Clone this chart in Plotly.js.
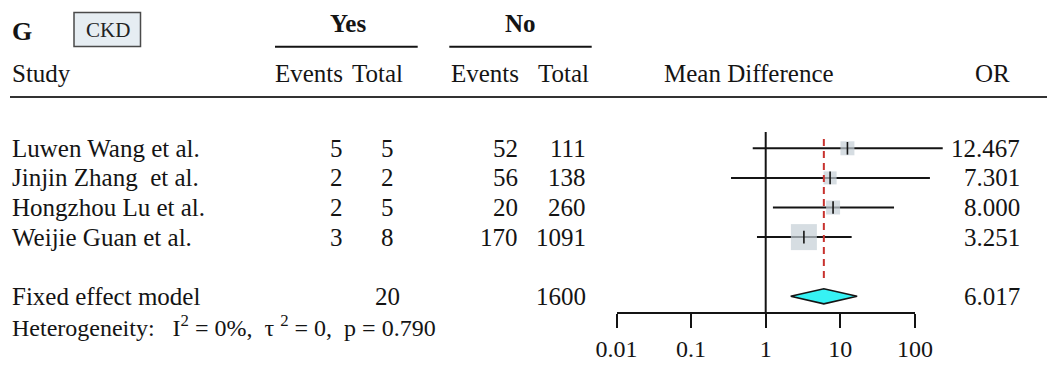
<!DOCTYPE html>
<html><head><meta charset="utf-8">
<script src="https://cdn.plot.ly/plotly-3.0.1.min.js"></script>
<style>html,body{margin:0;padding:0;background:#fff}#chart{width:1047px;height:383px}</style>
</head><body><div id="chart"></div>
<script>
// ---- data ----
const studies   = ["Luwen Wang et al.", "Jinjin Zhang\u00a0 et al.", "Hongzhou Lu et al.", "Weijie Guan et al."];
const yesEvents = [5, 2, 2, 3];
const yesTotal  = [5, 2, 5, 8];
const noEvents  = [52, 56, 20, 170];
const noTotal   = [111, 138, 260, 1091];
const orValue   = [12.467, 7.301, 8.000, 3.251];
const ciLower   = [0.67, 0.343, 1.25, 0.764];
const ciUpper   = [236, 159, 52.5, 14.2];
const weights   = [15.8, 13.7, 15.8, 54.6];
const pooledLabel = "Fixed effect model";
const pooledYesTotal = 20;
const pooledNoTotal  = 1600;
const pooledOR    = 6.017;
const pooledLower = 2.16;
const pooledUpper = 16.8;
const hetI2 = 0, hetTau2 = 0, hetP = 0.790;
const tickVals  = [0.01, 0.1, 1, 10, 100];
const tickText  = ["0.01", "0.1", "1", "10", "100"];

// ---- geometry helpers (pixels -> paper) ----
const W = 1047, H = 383;
const px = x => x / W;
const py = y => 1 - y / H;
const rowTop = 148.3, rowStep = 29.6;        // pixel centre of row 0, row spacing
const rowOf = y => (y - rowTop) / rowStep;
const pxPerDecade = 74.6, xOne = 765.7;
const FONT = "Liberation Serif, Times New Roman, serif";
const INK = "#141414";
const FS = 25;

const rows = studies.map((_, i) => i);
const pooledRow = 5;

// ---- traces ----
const ciX = [], ciY = [];
rows.forEach(i => { ciX.push(ciLower[i], ciUpper[i], null); ciY.push(i, i, null); });
const maxW = Math.max(...weights);
const boxSizes = weights.map(w => 26 * Math.sqrt(w / maxW));

const traces = [
  { x: [1, 1], y: [rowOf(132), rowOf(312.7)], mode: "lines", line: { color: INK, width: 2 }, hoverinfo: "skip" },
  { x: ciX, y: ciY, mode: "lines", line: { color: INK, width: 2 }, hoverinfo: "skip" },
  { x: orValue, y: rows, mode: "markers", marker: { symbol: "square", size: boxSizes, color: "#c4ced6", line: { width: 0 } }, hoverinfo: "skip" },
  { x: orValue, y: rows, mode: "markers", marker: { symbol: "line-ns", size: 9, line: { width: 1.6, color: INK } }, hoverinfo: "skip" },
  { x: [pooledOR, pooledOR], y: [rowOf(139), rowOf(283)], mode: "lines", line: { color: "#c8322e", width: 2, dash: "7px,5px" }, hoverinfo: "skip" },
  { x: [pooledLower, pooledOR, pooledUpper, pooledOR, pooledLower],
    y: [pooledRow, pooledRow - 0.255, pooledRow, pooledRow + 0.255, pooledRow],
    mode: "lines", fill: "toself", fillcolor: "#36f2f4", line: { color: INK, width: 1.6 }, hoverinfo: "skip" },
  { x: [null], y: [null], xaxis: "x2", yaxis: "y", mode: "markers", hoverinfo: "skip" }
];

// ---- text ----
const annotations = [];
function ann(text, x, y, xanchor, opts = {}) {
  annotations.push(Object.assign({
    text, x: px(x), xref: "paper", y, yref: "paper", xanchor, yanchor: "middle",
    showarrow: false, font: { family: FONT, size: FS, color: INK }
  }, opts));
}
function rowAnn(text, x, row, xanchor, opts = {}) {
  ann(text, x, row, xanchor, Object.assign({ yref: "y" }, opts));
}

ann("<b>G</b>", 10, py(32), "left", { font: { family: FONT, size: 26, color: INK } });
ann("CKD", 107.5, py(30), "center", { font: { family: FONT, size: 21, color: "#222" } });
ann("<b>Yes</b>", 348.3, py(24), "center");
ann("<b>No</b>", 520.8, py(24), "center");
ann("Study", 10, py(74), "left");
ann("Events", 345, py(74), "right");
ann("Total", 405, py(74), "right");
ann("Events", 521, py(74), "right");
ann("Total", 591, py(74), "right");
ann("Mean Difference", 749, py(74), "center");
ann("OR", 992, py(74), "center");

rows.forEach(i => {
  rowAnn(studies[i], 10, i, "left");
  rowAnn(String(yesEvents[i]), 344.5, i, "right");
  rowAnn(String(yesTotal[i]), 387.5, i, "center");
  rowAnn(String(noEvents[i]), 519.5, i, "right");
  rowAnn(String(noTotal[i]), 587.5, i, "right");
  rowAnn(orValue[i].toFixed(3), 1022, i, "right");
});
rowAnn(pooledLabel, 10, pooledRow, "left");
rowAnn(String(pooledYesTotal), 387.5, pooledRow, "center");
rowAnn(String(pooledNoTotal), 587.5, pooledRow, "right");
rowAnn(pooledOR.toFixed(3), 1022, pooledRow, "right");
ann("Heterogeneity:\u00a0\u00a0 I<sup>2</sup> = " + hetI2 + "%,\u00a0 \u03c4 <sup>2</sup> = " + hetTau2 +
    ",\u00a0 p = " + hetP.toFixed(3), 10, py(326), "left", { font: { family: FONT, size: 24, color: INK } });

// ---- shapes ----
const line = (x0, x1, y, w, c) => ({ type: "line", xref: "paper", yref: "paper", x0: px(x0), x1: px(x1), y0: py(y), y1: py(y), line: { color: c, width: w } });
const shapes = [
  { type: "rect", xref: "paper", yref: "paper", x0: px(74), x1: px(140.5), y0: py(46.5), y1: py(12.5),
    fillcolor: "#e6edf2", line: { color: "#4a4a4a", width: 1.5 } },
  line(275, 417.7, 46.7, 2, INK),
  line(449.3, 591.7, 46.7, 2, INK),
  line(10, 1047, 97, 2, "#333")
];

const layout = {
  width: W, height: H, margin: { l: 0, r: 0, t: 0, b: 0 },
  paper_bgcolor: "#fff", plot_bgcolor: "rgba(0,0,0,0)", showlegend: false,
  font: { family: FONT, size: FS, color: INK },
  xaxis: { type: "log", range: [(0 - xOne) / pxPerDecade, (W - xOne) / pxPerDecade], domain: [0, 1], visible: false, fixedrange: true },
  yaxis: { range: [rowOf(H), rowOf(0)], domain: [0, 1], visible: false, fixedrange: true },
  xaxis2: { type: "log", range: [-2, 2], domain: [px(xOne - 2 * pxPerDecade), px(xOne + 2 * pxPerDecade)],
    anchor: "free", position: py(312.7), showline: true, linewidth: 2, linecolor: INK,
    ticks: "outside", ticklen: 14, tickwidth: 2, tickcolor: INK,
    tickmode: "array", tickvals: tickVals, ticktext: tickText,
    tickfont: { family: FONT, size: 24, color: INK }, showgrid: false, zeroline: false, fixedrange: true },
  shapes, annotations
};

Plotly.newPlot("chart", traces, layout, { staticPlot: true, displayModeBar: false });
</script></body></html>
